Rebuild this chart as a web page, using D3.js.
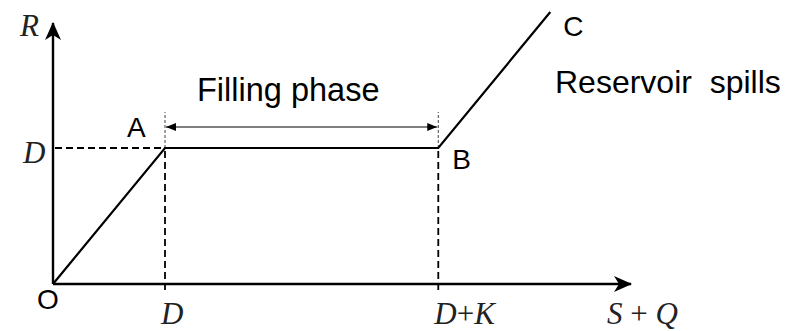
<!DOCTYPE html>
<html>
<head>
<meta charset="utf-8">
<script src="https://cdn.jsdelivr.net/npm/d3@7"></script>
<style>
  body { margin: 0; background: #fff; }
  .sans { font-family: "Liberation Sans", Arial, sans-serif; fill: #000; }
  .math { font-family: "Liberation Serif", "Times New Roman", serif; font-style: italic; fill: #222; }
</style>
</head>
<body>
<div id="chart"></div>
<script>
// operating rule: release R vs available water S+Q (units of D)
const curveX = [0, 1, 3.44, 4.44];
const curveY = [0, 1, 1, 2];
const pointLabels = ["O", "A", "B", "C"];
const xTickValues = [1, 3.44];
const xTickLabels = ["D", "D+K"];
const yTickValues = [1];
const yTickLabels = ["D"];
const phaseLabels = ["Filling phase", "Reservoir spills"];

const width = 785, height = 331;

const x = d3.scaleLinear().domain([0, 1]).range([53, 165]);
const y = d3.scaleLinear().domain([0, 1]).range([284, 148]);
const xMax = x.invert(631), yMax = y.invert(23);

const svg = d3.select("#chart").append("svg")
  .attr("width", width)
  .attr("height", height);

const defs = svg.append("defs");
// notched arrowhead for axes
defs.append("marker")
  .attr("id", "axisHead")
  .attr("viewBox", "0 0 18 16")
  .attr("refX", 17).attr("refY", 8)
  .attr("markerWidth", 18).attr("markerHeight", 16)
  .attr("markerUnits", "userSpaceOnUse")
  .attr("orient", "auto")
  .append("path")
  .attr("d", "M0,0 L18,8 L0,16 L5,8 Z")
  .attr("fill", "#000");
// small arrowheads for the filling-phase span
defs.append("marker")
  .attr("id", "spanHead")
  .attr("viewBox", "0 0 10 8")
  .attr("refX", 10).attr("refY", 4)
  .attr("markerWidth", 10).attr("markerHeight", 8)
  .attr("markerUnits", "userSpaceOnUse")
  .attr("orient", "auto-start-reverse")
  .append("path")
  .attr("d", "M0,0 L10,4 L0,8 Z")
  .attr("fill", "#000");

// axes
svg.append("line")
  .attr("x1", x(0)).attr("y1", y(0))
  .attr("x2", x(xMax)).attr("y2", y(0))
  .attr("stroke", "#000").attr("stroke-width", 2.4)
  .attr("marker-end", "url(#axisHead)");
svg.append("line")
  .attr("x1", x(0)).attr("y1", y(0))
  .attr("x2", x(0)).attr("y2", y(yMax))
  .attr("stroke", "#000").attr("stroke-width", 2.4)
  .attr("marker-end", "url(#axisHead)");

// dashed guides: verticals at D and D+K, horizontal at R = D
xTickValues.forEach(v => {
  svg.append("line")
    .attr("x1", x(v)).attr("x2", x(v))
    .attr("y1", y(0) + 6).attr("y2", y(1))
    .attr("stroke", "#000").attr("stroke-width", 1.8)
    .attr("stroke-dasharray", "7,4");
  svg.append("line")
    .attr("x1", x(v)).attr("x2", x(v))
    .attr("y1", y(1)).attr("y2", y(1) - 36)
    .attr("stroke", "#444").attr("stroke-width", 1)
    .attr("stroke-dasharray", "3,2");
});
yTickValues.forEach(v => {
  svg.append("line")
    .attr("x1", x(0) + 2).attr("x2", x(curveX[1]))
    .attr("y1", y(v)).attr("y2", y(v))
    .attr("stroke", "#000").attr("stroke-width", 1.8)
    .attr("stroke-dasharray", "7,4");
});

// release curve O-A-B-C
const pts = curveX.map((d, i) => ({ x: d, y: curveY[i], label: pointLabels[i] }));
svg.append("path")
  .datum(pts)
  .attr("fill", "none")
  .attr("stroke", "#000")
  .attr("stroke-width", 2.2)
  .attr("d", d3.line().x(d => x(d.x)).y(d => y(d.y)));

// filling phase span arrow
svg.append("line")
  .attr("x1", x(xTickValues[0]) + 1).attr("x2", x(xTickValues[1]) - 1)
  .attr("y1", y(1) - 21).attr("y2", y(1) - 21)
  .attr("stroke", "#000").attr("stroke-width", 1.2)
  .attr("marker-start", "url(#spanHead)")
  .attr("marker-end", "url(#spanHead)");

// point labels
const labelOffsets = [[-16, 25], [-38, -11], [14, 21], [13, 24]];
svg.selectAll("text.pt")
  .data(pts)
  .join("text")
  .attr("class", "pt sans")
  .attr("x", (d, i) => x(d.x) + labelOffsets[i][0])
  .attr("y", (d, i) => y(d.y) + labelOffsets[i][1])
  .attr("font-size", 28)
  .text(d => d.label);

svg.append("text")
  .attr("class", "sans")
  .attr("x", 197).attr("y", 101)
  .attr("font-size", 32.5)
  .text(phaseLabels[0]);
svg.append("text")
  .attr("class", "sans")
  .attr("x", 555).attr("y", 93)
  .attr("font-size", 32)
  .style("white-space", "pre")
  .text(phaseLabels[1].replace(" ", "  "));

// math labels
function mathLabel(xp, yp, parts) {
  const t = svg.append("text")
    .attr("class", "math")
    .attr("x", xp).attr("y", yp)
    .attr("font-size", 31)
    .style("white-space", "pre");
  parts.forEach(p => {
    t.append("tspan")
      .style("font-style", p.trim() === "+" ? "normal" : "italic")
      .text(p);
  });
}

mathLabel(20, 36, ["R"]);
yTickValues.forEach((v, i) => mathLabel(23, y(v) + 15, [yTickLabels[i]]));
xTickValues.forEach((v, i) => {
  const parts = xTickLabels[i].split(/(\+)/);
  mathLabel(x(v) - 4, 324, parts);
});
mathLabel(607, 324, ["S", " + ", "Q"]);
</script>
</body>
</html>
